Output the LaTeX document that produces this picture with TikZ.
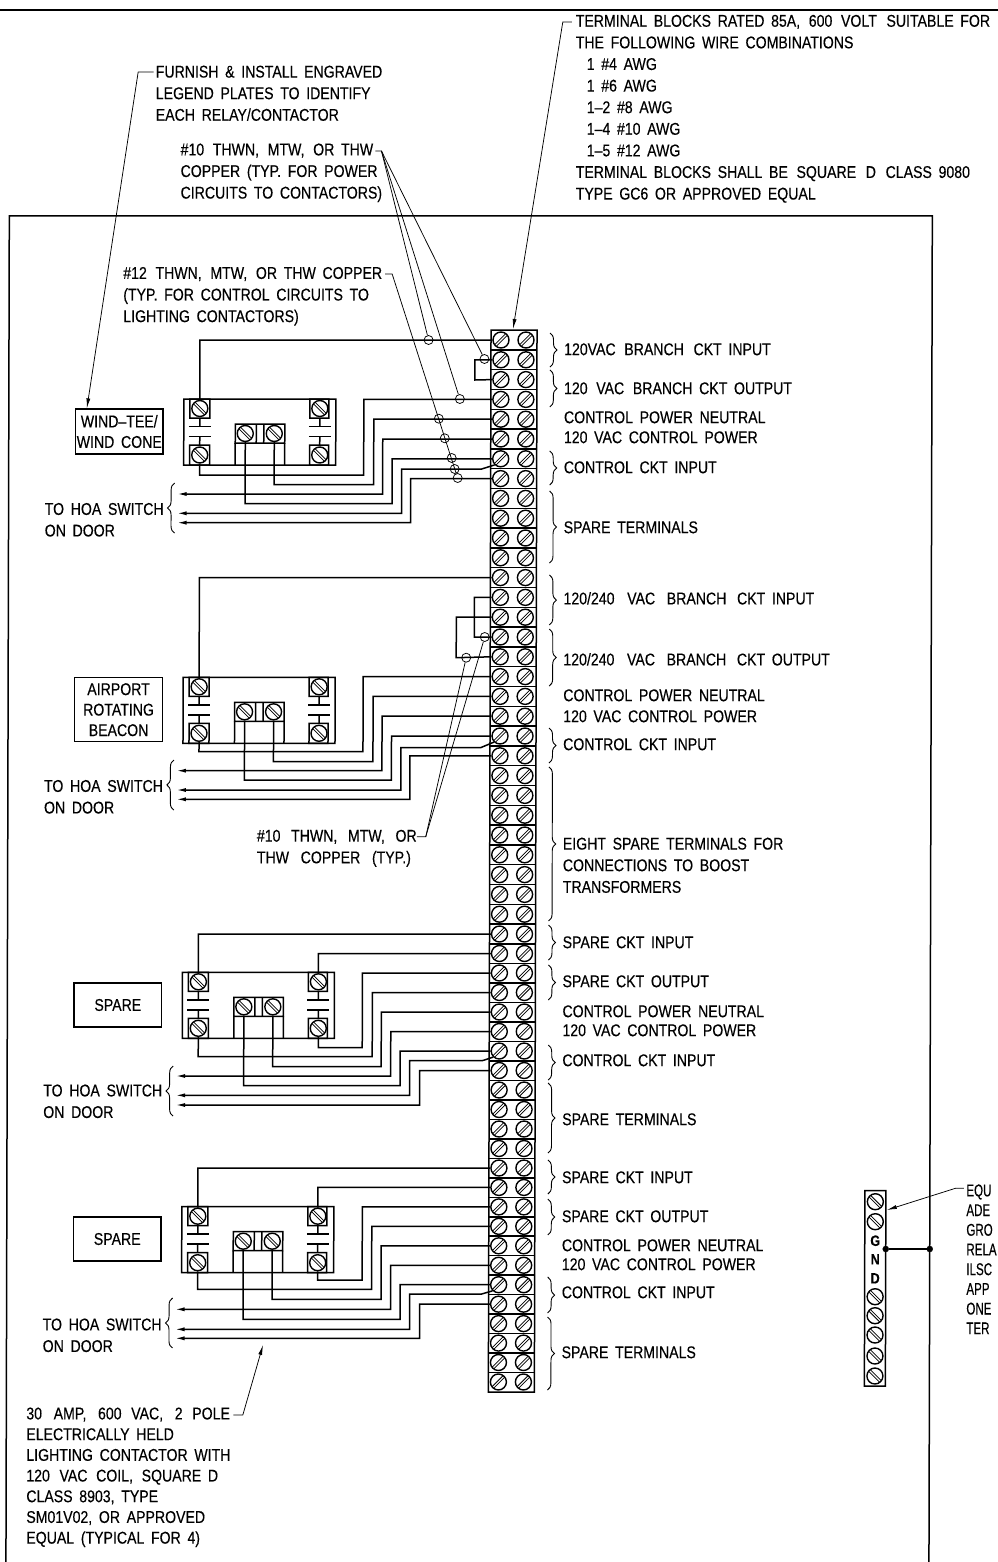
\documentclass[tikz,border=0pt]{standalone}
\usepackage{fontspec}
\setmainfont{Liberation Sans}[FakeStretch=0.83,WordSpace=1.7,FakeBold=0.3]
\newfontfamily\cutfont{Liberation Sans}[FakeStretch=0.68,FakeBold=0.3]
\usetikzlibrary{decorations.pathreplacing,arrows.meta}

\tikzset{
wire/.style={line width=1.5pt},
lead/.style={line width=0.75pt},
frameline/.style={line width=1.5pt},
brc/.style={line width=0.9pt,decorate,decoration={brace,amplitude=7pt}},
lbl/.style={anchor=west,inner sep=0pt,align=left,yshift=-0.3pt,font=\fontsize{17}{21.6}\selectfont},
plate/.style={draw,line width=1.3pt,align=center,inner sep=0pt,minimum width=87.5pt,font=\fontsize{17}{20.5}\selectfont},
ring/.style={draw,circle,line width=0.75pt,minimum size=9pt,inner sep=0pt},
dot/.style={draw,circle,fill=black,minimum size=6pt,inner sep=0pt},
screwa/.style={draw,circle,line width=1.4pt,minimum size=16pt,inner sep=0pt,path picture={\draw[line width=0.9pt,double,double distance=1.2pt] (path picture bounding box.south west) -- (path picture bounding box.north east);}},
screwb/.style={draw,circle,line width=1.4pt,minimum size=16pt,inner sep=0pt,path picture={\draw[line width=0.9pt,double,double distance=1.2pt] (path picture bounding box.north west) -- (path picture bounding box.south east);}}
}

% one contactor, top edge at local y=0
\newcommand{\contactor}[1]{
\path[draw,wire] (184,0) rectangle (336,66);
\path[draw,wire] (190,0) rectangle (210,19);
\path[draw,wire] (190,46) rectangle (210,66);
\path[draw,wire] (310,0) rectangle (329,19);
\path[draw,wire] (310,46) rectangle (329,66);
\path[draw,wire] (235.5,25) rectangle (285,44);
\path[draw,wire] (256.5,25) -- (256.5,44);
\path[draw,wire] (264,25) -- (264,44);
\path[draw,wire] (235.5,44) -- (235.5,66);
\path[draw,wire] (285,44) -- (285,66);
\foreach \cx in {200,320} {
\path[draw,wire] (\cx,19) -- (\cx,27.5);
\path[draw,wire] (\cx-11,27.5) -- (\cx+11,27.5);
\path[draw,wire] (\cx-11,37.5) -- (\cx+11,37.5);
\path[draw,wire] (\cx,37.5) -- (\cx,46);
}
\node[screwb] (#1a) at (200,9.5) {};
\node[screwb] (#1b) at (200,56) {};
\node[screwb] (#1c) at (320,9.5) {};
\node[screwb] (#1d) at (320,56) {};
\node[screwb] (#1e) at (245.5,34.5) {};
\node[screwb] (#1f) at (274.5,34.5) {};
}

\begin{document}
\begin{tikzpicture}[x=1pt,y=-1pt,>={Latex[length=10pt,width=4pt]}]
\useasboundingbox (0,0) rectangle (997,1562);
\begin{scope}[xshift=0.85pt,xslant=0.0025]

% frame
\path[draw,frameline] (-1,10) -- (999,10);
\path[draw,frameline] (9,1570) -- (9,216) -- (932,216) -- (932,1570);

% terminal strip
\path[draw,wire] (491,330) -- (537,330) -- (537,1392) -- (491,1392) -- cycle;
\foreach \r in {0,...,53} {
\pgfmathsetmacro{\ry}{\r<=30 ? 340+19.8*\r : (\r<=42 ? 934+19.5*(\r-30) : 1168+19.45*(\r-42))}
\node[screwa] (L\r) at (501,\ry) {};
\node[screwa] (R\r) at (526,\ry) {};
\ifnum\r<53 \path[draw,wire] (491,\ry+9.85) -- (537,\ry+9.85); \fi
}

% contactors
\begin{scope}[yshift=-399pt]
\contactor{A}
\end{scope}
\begin{scope}[yshift=-677.3pt]
\contactor{B}
\end{scope}
\begin{scope}[yshift=-972.3pt]
\contactor{C}
\end{scope}
\begin{scope}[yshift=-1206.7pt]
\contactor{D}
\end{scope}

% wires, wind-tee
\path[draw,wire] (L0.west) -| (Aa.north);
\path[draw,wire] (L1.west) -| (475,380) -- (L2.west);
\path[draw,wire] (L3.west) -| (364,475) -| (Ab.south);
\path[draw,wire] (L4.west) -| (374,484.5) -| (Af.south);
\path[draw,wire,->] (L5.west) -| (383,494) -- (177,494);
\path[draw,wire] (L6.west) -| (392.5,503.5) -| (Ae.south);
\path[draw,wire,->] (L6.south west) -- (482,469) -| (402,513.3) -- (177,513.3);
\path[draw,wire,->] (L7.west) -| (411,522.7) -- (177,522.7);

% wires, beacon
\path[draw,wire] (L12.west) -| (Ba.north);
\path[draw,wire] (L13.west) -| (475,637) -- (L15.west);
\path[draw,wire] (L14.west) -| (457,657.7) -- (L16.west);
\path[draw,wire] (L17.west) -| (364,751.7) -| (Bb.south);
\path[draw,wire] (L18.west) -| (374,761.7) -| (Bf.south);
\path[draw,wire,->] (L19.west) -| (383,770.7) -- (177,770.7);
\path[draw,wire] (L20.west) -| (392.5,780) -| (Be.south);
\path[draw,wire,->] (L20.south west) -- (482,747.5) -| (402,790) -- (177,790);
\path[draw,wire,->] (L21.west) -| (411,799.3) -- (177,799.3);

% wires, spare one
\path[draw,wire] (L30.west) -| (Ca.north);
\path[draw,wire] (L31.west) -| (Cc.north);
\path[draw,wire] (L32.west) -| (364,1047.7) -| (Cd.south);
\path[draw,wire] (L33.west) -| (374,1056.7) -| (Cb.south);
\path[draw,wire] (L34.west) -| (383,1066.7) -| (Cf.south);
\path[draw,wire,->] (L35.west) -| (392.5,1076) -- (177,1076);
\path[draw,wire] (L36.west) -| (402,1085.7) -| (Ce.south);
\path[draw,wire,->] (L36.south west) -- (484,1060.7) -| (411.5,1095.3) -- (177,1095.3);
\path[draw,wire,->] (L37.west) -| (421.5,1105) -- (177,1105);

% wires, spare two
\path[draw,wire] (L42.west) -| (Da.north);
\path[draw,wire] (L43.west) -| (Dc.north);
\path[draw,wire] (L44.west) -| (364.5,1280) -| (Dd.south);
\path[draw,wire] (L45.west) -| (374,1289.3) -| (Db.south);
\path[draw,wire] (L46.west) -| (383.5,1299.3) -| (Df.south);
\path[draw,wire,->] (L47.west) -| (393,1309.3) -- (177,1309.3);
\path[draw,wire] (L48.west) -| (402.5,1319.3) -| (De.south);
\path[draw,wire,->] (L48.south west) -- (484,1294) -| (412,1329.3) -- (177,1329.3);
\path[draw,wire,->] (L49.west) -| (422,1338.3) -- (177,1338.3);

% name plates
\node[plate,minimum height=45pt] (p1) at (119.5,431.5) {WIND--TEE/\\WIND CONE};
\node[plate,minimum height=64pt] (p2) at (119.5,709.7) {AIRPORT\\ROTATING\\BEACON};
\node[plate,minimum height=44pt] (p3) at (119.5,1005) {SPARE};
\node[plate,minimum height=44pt] (p4) at (119.5,1239) {SPARE};

% strip labels
\node[lbl] (t0) at (564,349) {120VAC\hspace{2pt} BRANCH\hspace{3pt} CKT INPUT};
\node[lbl] (t1) at (564,388) {120\hspace{2pt} VAC\hspace{2pt} BRANCH CKT OUTPUT};
\node[lbl] (t2) at (564,417) {CONTROL POWER NEUTRAL};
\node[lbl] (t3) at (564,437) {120 VAC CONTROL POWER};
\node[lbl] (t4) at (564,467) {CONTROL CKT INPUT};
\node[lbl] (t5) at (564,527) {SPARE TERMINALS};
\node[lbl] (t6) at (564,598) {120/240\hspace{6pt} VAC\hspace{5pt} BRANCH\hspace{4pt} CKT INPUT};
\node[lbl] (t7) at (564,659) {120/240\hspace{6pt} VAC\hspace{5pt} BRANCH\hspace{4pt} CKT OUTPUT};
\node[lbl] (t8) at (564,695) {CONTROL POWER NEUTRAL};
\node[lbl] (t9) at (564,716) {120 VAC CONTROL POWER};
\node[lbl] (t10) at (564,744) {CONTROL CKT INPUT};
\node[lbl] (t11) at (564,865) {EIGHT SPARE TERMINALS FOR\\CONNECTIONS TO BOOST\\TRANSFORMERS};
\node[lbl] (t12) at (564,942) {SPARE CKT INPUT};
\node[lbl] (t13) at (564,981) {SPARE CKT OUTPUT};
\node[lbl] (t14) at (564,1011) {CONTROL POWER NEUTRAL};
\node[lbl] (t15) at (564,1030) {120 VAC CONTROL POWER};
\node[lbl] (t16) at (564,1060) {CONTROL CKT INPUT};
\node[lbl] (t17) at (564,1119) {SPARE TERMINALS};
\node[lbl] (t18) at (564,1177) {SPARE CKT INPUT};
\node[lbl] (t19) at (564,1216) {SPARE CKT OUTPUT};
\node[lbl] (t20) at (564,1245) {CONTROL POWER NEUTRAL};
\node[lbl] (t21) at (564,1264) {120 VAC CONTROL POWER};
\node[lbl] (t22) at (564,1292) {CONTROL CKT INPUT};
\node[lbl] (t23) at (564,1352) {SPARE TERMINALS};

% braces on the strip
\path[draw,brc] (550,333) -- (550,367);
\path[draw,brc] (550,370) -- (550,407);
\path[draw,brc] (550,451) -- (550,485);
\path[draw,brc] (550,491) -- (550,563);
\path[draw,brc] (550,575) -- (550,625);
\path[draw,brc] (550,629) -- (550,686);
\path[draw,brc] (550,728) -- (550,763);
\path[draw,brc] (550,767) -- (550,921);
\path[draw,brc] (550,925) -- (550,960);
\path[draw,brc] (550,965) -- (550,1000);
\path[draw,brc] (550,1045) -- (550,1080);
\path[draw,brc] (550,1083) -- (550,1153);
\path[draw,brc] (550,1160) -- (550,1194);
\path[draw,brc] (550,1199) -- (550,1235);
\path[draw,brc] (550,1277) -- (550,1313);
\path[draw,brc] (550,1317) -- (550,1390);

% door labels
\node[lbl] (h1) at (45,519.5) {TO HOA SWITCH\\ON DOOR};
\node[lbl] (h2) at (45,796.5) {TO HOA SWITCH\\ON DOOR};
\node[lbl] (h3) at (45,1101) {TO HOA SWITCH\\ON DOOR};
\node[lbl] (h4) at (45,1335) {TO HOA SWITCH\\ON DOOR};
\path[draw,brc] (175,533) -- (175,483);
\path[draw,brc] (175,810) -- (175,760);
\path[draw,brc] (175,1116) -- (175,1066);
\path[draw,brc] (175,1348) -- (175,1298);

% notes
\node[lbl] (n1) at (155,93) {FURNISH \& INSTALL ENGRAVED\\LEGEND PLATES TO IDENTIFY\\EACH RELAY/CONTACTOR};
\node[lbl] (n2) at (180,172.5) {\#10\hspace{2pt} THWN,\hspace{2pt} MTW,\hspace{2pt} OR THW\\COPPER (TYP. FOR POWER\\CIRCUITS TO CONTACTORS)};
\node[lbl] (n3) at (123,296) {\#12\hspace{2pt} THWN,\hspace{2pt} MTW,\hspace{2pt} OR THW COPPER\\(TYP. FOR CONTROL CIRCUITS TO\\LIGHTING CONTACTORS)};
\node[lbl] (n4) at (575,108.5) {TERMINAL BLOCKS RATED 85A,\hspace{2pt} 600\hspace{2pt} VOLT\hspace{3pt} SUITABLE FOR\\THE FOLLOWING WIRE COMBINATIONS\\\hspace*{11pt}1 \#4 AWG\\\hspace*{11pt}1 \#6 AWG\\\hspace*{11pt}1--2 \#8 AWG\\\hspace*{11pt}1--4 \#10 AWG\\\hspace*{11pt}1--5 \#12 AWG\\TERMINAL BLOCKS SHALL BE\hspace{2pt} SQUARE\hspace{3pt} D\hspace{3pt} CLASS 9080\\TYPE GC6 OR APPROVED EQUAL};
\node[lbl] (n5) at (258,848) {\#10\hspace{4pt} THWN,\hspace{4pt} MTW,\hspace{4pt} OR\\THW\hspace{5pt} COPPER\hspace{5pt} (TYP.)};
\node[lbl,font=\fontsize{17}{20.7}\selectfont] (n6) at (29,1477) {30\hspace{5pt} AMP,\hspace{5pt} 600\hspace{3pt} VAC,\hspace{5pt} 2\hspace{3pt} POLE\\ELECTRICALLY HELD\\LIGHTING CONTACTOR WITH\\120\hspace{3pt} VAC\hspace{2pt} COIL,\hspace{2pt} SQUARE D\\CLASS 8903, TYPE\\SM01V02, OR APPROVED\\EQUAL (TYPICAL FOR 4)};
\node[lbl,font=\cutfont\fontsize{17}{19.7}\selectfont] (n7) at (968.5,1259) {EQU\\ADE\\GRO\\RELA\\ILSC\\APP\\ONE\\TER};

% wire marks
\node[ring] (m1) at (428.6,340) {};
\node[ring] (m2) at (484.5,359) {};
\node[ring] (m3) at (460,399) {};
\node[ring] (m4) at (439,418.7) {};
\node[ring] (m5) at (445,438.3) {};
\node[ring] (m6) at (452,458) {};
\node[ring] (m7) at (455,469) {};
\node[ring] (m8) at (458,478) {};
\node[ring] (m9) at (467,657.7) {};
\node[ring] (m10) at (485.5,637) {};

% leaders
\coordinate (f0) at (153,72);
\coordinate (f1) at (137.5,72);
\path[draw,lead,->] (f0) -- (f1) -- ([xshift=12pt]p1.north west);
\coordinate (c0) at (375,151);
\coordinate (c1) at (381,151);
\path[draw,lead] (c0) -- (c1) -- (m1);
\path[draw,lead] (c1) -- (m3);
\path[draw,lead] (c1) -- (m2);
\coordinate (d0) at (385,274);
\coordinate (d1) at (392,274);
\path[draw,lead] (d0) -- (d1) -- (m8);
\coordinate (e0) at (571,22);
\coordinate (e1) at (562,22);
\coordinate (e2) at (513,329);
\path[draw,lead,->] (e0) -- (e1) -- (e2);
\coordinate (k0) at (418,836.7);
\coordinate (k1) at (427,836.7);
\path[draw,lead] (k0) -- (k1) -- (m9);
\path[draw,lead] (k1) -- (m10);
\coordinate (q0) at (236,1415);
\coordinate (q1) at (245.5,1415);
\coordinate (q2) at (265.5,1345);
\path[draw,lead,->] (q0) -- (q1) -- (q2);

% ground bar
\path[draw,wire] (867,1190.7) rectangle (888,1386);
\foreach \n/\gy in {1/1201.7,2/1221.7,3/1296.7,4/1315.7,5/1335,6/1356,7/1376} {
\node[screwb] (G\n) at (877.5,\gy) {};
}
\node[inner sep=0pt,font=\fontsize{15}{15}\selectfont\bfseries] (g1) at (877.5,1240.7) {G};
\node[inner sep=0pt,font=\fontsize{15}{15}\selectfont\bfseries] (g2) at (877.5,1259.3) {N};
\node[inner sep=0pt,font=\fontsize{15}{15}\selectfont\bfseries] (g3) at (877.5,1278.3) {D};
\node[dot] (j1) at (888,1249) {};
\node[dot] (j2) at (932,1249) {};
\path[draw,wire] (j1) -- (j2);
\coordinate (s0) at (966,1188.3);
\coordinate (s1) at (957.5,1188.3);
\coordinate (s2) at (889,1210);
\path[draw,lead,->] (s0) -- (s1) -- (s2);
\end{scope}
\end{tikzpicture}
\end{document}
